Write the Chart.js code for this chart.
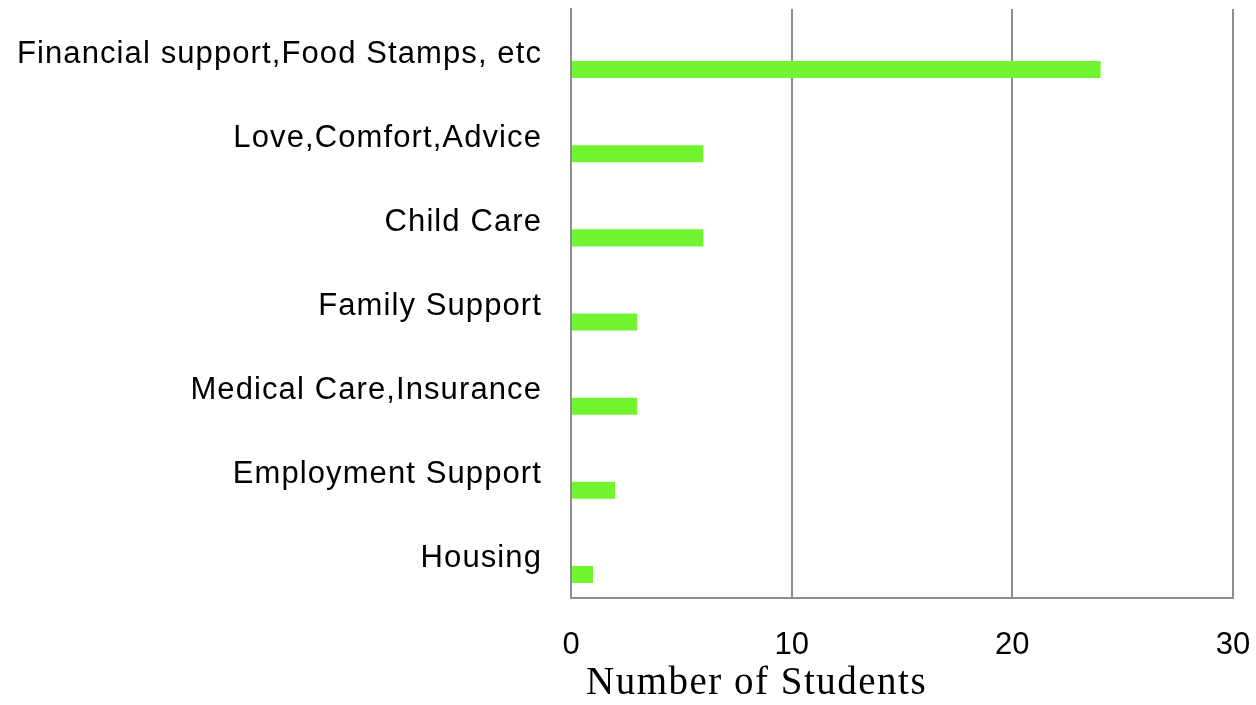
<!DOCTYPE html>
<html>
<head>
<meta charset="utf-8">
<script src="https://cdn.jsdelivr.net/npm/chart.js@4"></script>
<style>
  html, body { margin: 0; padding: 0; background: #fff; }
  #wrap { width: 1256px; height: 705px; }
</style>
</head>
<body>
<div id="wrap"><canvas id="supportChart"></canvas></div>
<script>
// data
const categories = [
  'Financial support,Food Stamps, etc',
  'Love,Comfort,Advice',
  'Child Care',
  'Family Support',
  'Medical Care,Insurance',
  'Employment Support',
  'Housing'
];
const studentCounts = [24, 6, 6, 3, 3, 2, 1];
const xTicks = [0, 10, 20, 30];

const gridGrey = '#8e8e8e';
const sansFont = '"Liberation Sans", Arial, sans-serif';

// the category labels in the original are spaced out a bit
const spacingPlugin = {
  id: 'labelSpacing',
  beforeDraw(chart) {
    chart.ctx.letterSpacing = '1.1px';
  },
  afterDatasetsDraw(chart) {
    chart.ctx.letterSpacing = '0px';
  }
};

// axis title sits a bit right of the plot's left edge, drawn by hand
const xTitlePlugin = {
  id: 'xTitle',
  afterDraw(chart) {
    const ctx = chart.ctx;
    ctx.save();
    ctx.letterSpacing = '1.5px';
    ctx.font = '39px "Liberation Serif", "Times New Roman", serif';
    ctx.fillStyle = '#000';
    ctx.textAlign = 'left';
    ctx.textBaseline = 'alphabetic';
    ctx.fillText('Number of Students', chart.chartArea.left + 15, 694);
    ctx.restore();
  }
};

const ctx = document.getElementById('supportChart');

new Chart(ctx, {
  type: 'bar',
  data: {
    labels: categories,
    datasets: [
      // empty slot so the real bar sits in the lower half of each row
      { label: 'spacer', data: [] },
      {
        label: 'Number of Students',
        data: studentCounts,
        backgroundColor: '#70f530',
        borderWidth: 0
      }
    ]
  },
  options: {
    indexAxis: 'y',
    responsive: true,
    maintainAspectRatio: false,
    animation: false,
    layout: {
      padding: { top: 9, right: 23, left: 0, bottom: 0 }
    },
    datasets: {
      bar: { categoryPercentage: 0.88, barPercentage: 0.46 }
    },
    plugins: {
      legend: { display: false },
      tooltip: { enabled: false }
    },
    scales: {
      x: {
        min: 0,
        max: 30,
        afterBuildTicks(scale) {
          scale.ticks = xTicks.map(v => ({ value: v }));
        },
        afterFit(scale) {
          scale.height = 107;
          scale.paddingLeft = 0;
          scale.paddingRight = 0;
        },
        grid: {
          color: gridGrey,
          lineWidth: 2,
          drawTicks: false
        },
        border: { display: true, color: gridGrey, width: 2 },
        ticks: {
          z: 1,
          color: '#000',
          padding: 29,
          font: { family: sansFont, size: 31 }
        }
      },
      y: {
        afterFit(scale) {
          scale.width = 571;
          scale.paddingTop = 0;
          scale.paddingBottom = 0;
        },
        grid: { display: false, drawTicks: false },
        border: { display: true, color: gridGrey, width: 2 },
        ticks: {
          color: '#000',
          padding: 29,
          labelOffset: 3,
          font: { family: sansFont, size: 31 }
        }
      }
    }
  },
  plugins: [spacingPlugin, xTitlePlugin]
});
</script>
</body>
</html>
